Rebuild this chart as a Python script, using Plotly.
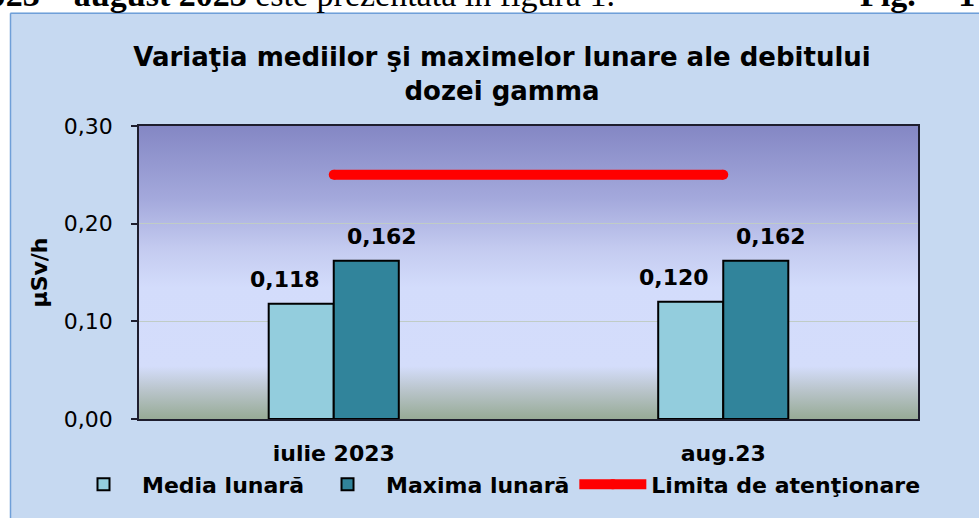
import base64
import plotly.graph_objects as go

# ---- data ----
categories = ["iulie 2023", "aug.23"]
media_lunara = [0.118, 0.120]
maxima_lunara = [0.162, 0.162]
limita_atentionare = [0.25, 0.25]
y_ticks = [0.0, 0.1, 0.2, 0.3]

series_names = ["Media lunară", "Maxima lunară", "Limita de atenţionare"]
title_text = "Variaţia mediilor şi maximelor lunare ale debitului<br>dozei gamma"
y_title = "µSv/h"

# ---- layout helpers (plot area in pixels) ----
PL, PR, PT, PB = 139, 918, 126, 421
FW, FH = 979, 518
SANS = "DejaVu Sans"


def fx(px):
    return (px - PL) / (PR - PL)


def fy(py):
    return (PB - py) / (PB - PT)


# vertical gradient for plot background (as inline SVG image)
stops = [
    (0.00, "#8487C4"),
    (0.25, "#A4A9DC"),
    (0.42, "#C4CBF0"),
    (0.55, "#D3DCFB"),
    (0.82, "#D4DDFB"),
    (0.90, "#BAC5CC"),
    (1.00, "#97AB96"),
]
stop_xml = "".join(f'<stop offset="{o}" stop-color="{c}"/>' for o, c in stops)
svg = (
    '<svg xmlns="http://www.w3.org/2000/svg" width="100" height="100" preserveAspectRatio="none">'
    f'<defs><linearGradient id="g" x1="0" y1="0" x2="0" y2="1">{stop_xml}</linearGradient></defs>'
    '<rect width="100" height="100" fill="url(#g)"/></svg>'
)
svg_uri = "data:image/svg+xml;base64," + base64.b64encode(svg.encode()).decode()

light = "#93CDDD"
dark = "#31849B"

fig = go.Figure()
fig.add_trace(go.Bar(
    x=categories, y=media_lunara, name=series_names[0],
    marker=dict(color=light, line=dict(color="black", width=2)),
))
fig.add_trace(go.Bar(
    x=categories, y=maxima_lunara, name=series_names[1],
    marker=dict(color=dark, line=dict(color="black", width=2)),
))
fig.add_trace(go.Scatter(
    x=categories, y=limita_atentionare, name=series_names[2],
    mode="lines+markers",
    line=dict(color="#FF0000", width=10),
    marker=dict(color="#FF0000", size=10),
))

# data labels
label_font = dict(family=SANS, size=22, color="black", weight="bold")
annotations = []
for cat, v in zip(categories, media_lunara):
    annotations.append(dict(
        x=cat, y=v, xref="x", yref="y", text=f"{v:.3f}".replace(".", ","),
        showarrow=False, xanchor="center", yanchor="bottom",
        xshift=-49, yshift=10, font=label_font,
    ))
for cat, v in zip(categories, maxima_lunara):
    annotations.append(dict(
        x=cat, y=v, xref="x", yref="y", text=f"{v:.3f}".replace(".", ","),
        showarrow=False, xanchor="center", yanchor="bottom",
        xshift=48, yshift=10, font=label_font,
    ))

# document text above the chart (partially cut off, as in the source)
serif = dict(family="Liberation Serif", size=34, color="black")
annotations.append(dict(
    x=fx(617), y=fy(-6), xref="paper", yref="paper",
    text="<b>iulie 2023 – august 2023</b> este prezentată în figura 1.",
    showarrow=False, xanchor="right", yanchor="middle", font=serif,
))
annotations.append(dict(
    x=fx(977), y=fy(-6), xref="paper", yref="paper",
    text="<b>Fig.\u00a0\u00a0\u00a0\u00a0\u00a01</b>",
    showarrow=False, xanchor="right", yanchor="middle", font=serif,
))

border_col = "#6F9FD8"
shapes = [
    dict(type="rect", xref="paper", yref="paper", layer="below",
         x0=fx(-5), x1=fx(990), y0=fy(12), y1=fy(-10),
         fillcolor="white", line=dict(width=0)),
    dict(type="rect", xref="paper", yref="paper", layer="below",
         x0=fx(-5), x1=fx(10), y0=fy(530), y1=fy(-10),
         fillcolor="white", line=dict(width=0)),
    dict(type="line", xref="paper", yref="paper", layer="below",
         x0=fx(10.5), x1=fx(990), y0=fy(12.5), y1=fy(12.5),
         line=dict(color=border_col, width=1.5)),
    dict(type="line", xref="paper", yref="paper", layer="below",
         x0=fx(10.5), x1=fx(10.5), y0=fy(12.5), y1=fy(530),
         line=dict(color=border_col, width=1.5)),
]

fig.update_layout(
    width=FW, height=FH,
    margin=dict(l=PL, r=FW - PR, t=PT, b=FH - PB, pad=0),
    paper_bgcolor="#C6D9F1",
    plot_bgcolor="rgba(0,0,0,0)",
    separators=",.",
    barmode="group",
    bargap=0.666,
    bargroupgap=0,
    font=dict(family=SANS, color="black"),
    title=dict(
        text=title_text,
        x=502 / FW, xref="container", xanchor="center",
        y=1 - 66 / FH, yref="container", yanchor="top",
        font=dict(family=SANS, size=26, color="black", weight="bold"),
    ),
    xaxis=dict(
        type="category",
        showline=True, linecolor="#1E1E2E", linewidth=1.5, mirror=True,
        ticks="outside", ticklen=0, ticklabelstandoff=14,
        tickfont=dict(family=SANS, size=22, color="black", weight="bold"),
        showgrid=False, zeroline=False,
    ),
    yaxis=dict(
        range=[0, 0.3], tickvals=y_ticks, tickformat=".2f",
        showline=True, linecolor="#1E1E2E", linewidth=1.5, mirror=True,
        ticks="outside", ticklen=6, tickcolor="#1E1E2E", tickwidth=1.5,
        ticklabelstandoff=14,
        tickfont=dict(family=SANS, size=22, color="black"),
        showgrid=True, gridcolor="#C0CCC6", gridwidth=1,
        zeroline=False,
        title=dict(text=y_title, standoff=10,
                   font=dict(family=SANS, size=22, color="black", weight="bold")),
    ),
    legend=dict(
        orientation="h", x=fx(65), xanchor="left", y=fy(487), yanchor="middle",
        bgcolor="rgba(0,0,0,0)",
        font=dict(family=SANS, size=22, color="black", weight="bold"),
        traceorder="normal", itemwidth=67,
    ),
    showlegend=True,
    annotations=annotations,
    shapes=shapes,
    images=[dict(
        source=svg_uri, xref="paper", yref="paper", x=0, y=1,
        sizex=1, sizey=1, xanchor="left", yanchor="top",
        sizing="stretch", layer="below",
    )],
)

fig.write_html(
    "out.html",
    config={"displayModeBar": False},
    post_script="document.body.style.margin='0';document.body.style.overflow='hidden';",
)
